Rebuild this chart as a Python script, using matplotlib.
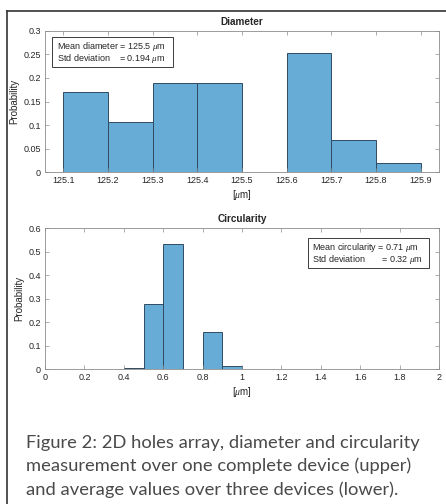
import numpy as np
import matplotlib
matplotlib.use("Agg")
import matplotlib.pyplot as plt
from matplotlib.lines import Line2D
from matplotlib.patches import Rectangle
from matplotlib.ticker import FuncFormatter

# --- data ---
diam_edges = [125.1, 125.2, 125.3, 125.4, 125.5, 125.6, 125.7, 125.8, 125.9]
diam_prob = [0.171, 0.107, 0.190, 0.190, 0.0, 0.252, 0.068, 0.020]
diam_ticks = [125.1, 125.2, 125.3, 125.4, 125.5, 125.6, 125.7, 125.8, 125.9]
diam_yticks = [0, 0.05, 0.1, 0.15, 0.2, 0.25, 0.3]

circ_edges = [0.4, 0.5, 0.6, 0.7, 0.8, 0.9, 1.0, 1.1, 1.2]
circ_prob = [0.004, 0.278, 0.532, 0.0, 0.160, 0.016, 0.0, 0.003]
circ_ticks = [0, 0.2, 0.4, 0.6, 0.8, 1.0, 1.2, 1.4, 1.6, 1.8, 2.0]
circ_yticks = [0, 0.1, 0.2, 0.3, 0.4, 0.5, 0.6]

diam_text = ["Mean diameter = 125.5 $\\mu$m", "Std deviation    = 0.194 $\\mu$m"]
circ_text = ["Mean circularity = 0.71 $\\mu$m", "Std deviation       = 0.32 $\\mu$m"]
caption = ["Figure 2: 2D holes array, diameter and circularity",
           "measurement over one complete device (upper)",
           "and average values over three devices (lower)."]

plt.rcParams['font.family'] = ['Liberation Sans', 'DejaVu Sans']
plt.rcParams['mathtext.fontset'] = 'custom'
plt.rcParams['mathtext.it'] = 'Liberation Serif:italic'

W, H = 446, 504
fig = plt.figure(figsize=(W / 100, H / 100), dpi=100)

FACE = '#67abd7'
EDGE = '#2f4b63'
SPINE = '#8c8c8c'
TXT = '#262626'


def px_axes(left, top, right, bottom):
    return fig.add_axes([left / W, 1 - bottom / H, (right - left) / W, (bottom - top) / H])


def style(ax, xticks, yticks):
    ax.set_xticks(xticks)
    ax.set_yticks(yticks)
    fmt = FuncFormatter(lambda v, p: f'{v:g}')
    ax.xaxis.set_major_formatter(fmt)
    ax.yaxis.set_major_formatter(fmt)
    ax.tick_params(direction='in', top=True, right=True, length=3, width=0.5,
                   color=SPINE, labelsize=6.5, labelcolor=TXT, pad=3)
    for s in ax.spines.values():
        s.set_color(SPINE)
        s.set_linewidth(0.6)
    ax.set_ylabel('Probability', fontsize=7, color=TXT, labelpad=3)
    ax.set_xlabel('[$\\mu$m]', fontsize=7, color=TXT, labelpad=2)


def draw_hist(ax, edges, prob):
    e = np.array(edges)
    p = np.array(prob)
    keep = p > 0
    ax.bar(e[:-1][keep], p[keep], width=np.diff(e)[keep], align='edge',
           color=FACE, edgecolor=EDGE, linewidth=0.7)


def info_box(ax, x0, y0, w, h, lines, tx, ty):
    ax.add_patch(Rectangle((x0, y0), w, h, transform=ax.transAxes, fill=True,
                           fc='white', ec='#3c3c3c', lw=0.7, zorder=5))
    ax.text(tx, ty, "\n".join(lines), transform=ax.transAxes, fontsize=6.5,
            color=TXT, va='center', ha='left', linespacing=0.95, zorder=6)


# upper: diameter
ax1 = px_axes(45, 30.7, 439, 172.3)
draw_hist(ax1, diam_edges, diam_prob)
ax1.set_xlim(125.059, 125.941)
ax1.set_ylim(0, 0.3)
style(ax1, diam_ticks, diam_yticks)
ax1.set_title('Diameter', fontsize=7.2, fontweight='bold', color=TXT, pad=4)
info_box(ax1, 0.018, 0.744, 0.307, 0.212, diam_text, 0.031, 0.846)

# lower: circularity
ax2 = px_axes(45, 228, 439, 369.3)
draw_hist(ax2, circ_edges, circ_prob)
ax2.set_xlim(0, 2)
ax2.set_ylim(0, 0.6)
style(ax2, circ_ticks, circ_yticks)
ax2.set_title('Circularity', fontsize=7.2, fontweight='bold', color=TXT, pad=4)
info_box(ax2, 0.668, 0.715, 0.307, 0.212, circ_text, 0.678, 0.818)

# page frame (left and top rule)
fig.add_artist(Line2D([7 / W, 7 / W], [0, 1 - 11 / H], transform=fig.transFigure,
                      color='#333333', lw=1.2))
fig.add_artist(Line2D([7 / W, 1], [1 - 11 / H, 1 - 11 / H], transform=fig.transFigure,
                      color='#333333', lw=1.2))

# caption
for i, line in enumerate(caption):
    fig.text(26 / W, 1 - (448 + 23.5 * i) / H, line, fontsize=13.2, color='#4a4a4a',
             family=['Lato', 'DejaVu Sans'], fontweight='normal', va='baseline', ha='left')

fig.savefig('out.png', dpi=100)
